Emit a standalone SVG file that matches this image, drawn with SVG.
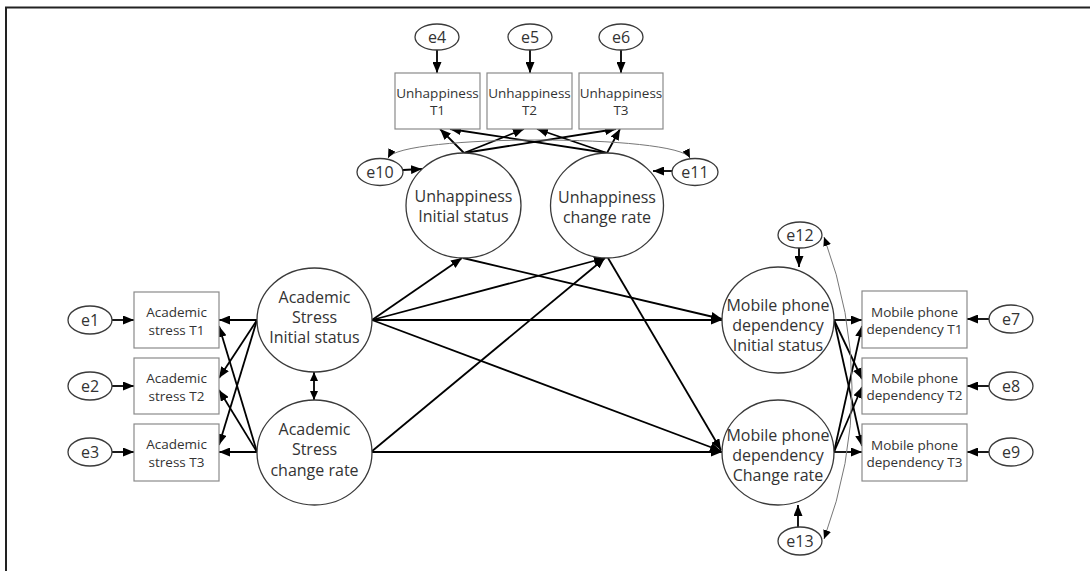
<svg xmlns="http://www.w3.org/2000/svg" width="1090" height="571" viewBox="0 0 1090 571">
<defs>
<marker id="ah" markerUnits="userSpaceOnUse" markerWidth="11" markerHeight="9" refX="11" refY="4.5" orient="auto"><path d="M0,0 L11,4.5 L0,9 z" fill="#000"/></marker>
<marker id="ahs" markerUnits="userSpaceOnUse" markerWidth="9" markerHeight="8" refX="9" refY="4" orient="auto-start-reverse"><path d="M0,0 L9,4 L0,8 z" fill="#000"/></marker>
<style>
.box{fill:#fff;stroke:#8a8a8a;stroke-width:1.2}
.lat{fill:#fff;stroke:#3a3a3a;stroke-width:1.3}
.err{fill:#fff;stroke:#3a3a3a;stroke-width:1.3}
.t{font-family:"Open Sans","Noto Sans","Liberation Sans",sans-serif;fill:#333;text-anchor:middle;dominant-baseline:central}
.bt{font-size:13.5px}
.lt{font-size:16px}
.et{font-size:16px}
.c line,.c path.a{stroke:#000;stroke-width:1.8;fill:none;marker-end:url(#ah)}
.c path.cov{stroke:#777;stroke-width:1;fill:none;marker-start:url(#ahs);marker-end:url(#ahs)}
.c line.bi{marker-start:url(#ahs);marker-end:url(#ahs)}
</style>
</defs>
<rect width="1090" height="571" fill="#fff"/>
<path d="M6,571 V7.5 H1090" fill="none" stroke="#222" stroke-width="2"/>

<g class="c" id="connectors">
<line x1="437" y1="50" x2="437" y2="73"/>
<line x1="530" y1="50" x2="530" y2="73"/>
<line x1="621" y1="50" x2="621" y2="73"/>
<line x1="464" y1="153" x2="440" y2="129"/>
<line x1="464" y1="153" x2="524" y2="129"/>
<line x1="464" y1="153" x2="616" y2="129"/>
<line x1="607" y1="153" x2="450" y2="129"/>
<line x1="607" y1="153" x2="537" y2="129"/>
<line x1="607" y1="153" x2="620" y2="129"/>
<line x1="403" y1="170" x2="422" y2="169"/>
<line x1="672" y1="171" x2="653" y2="171"/>
<path class="cov" d="M388,158 C400,134 678,134 690,158"/>
<line x1="112" y1="320" x2="134" y2="320"/>
<line x1="112" y1="386" x2="134" y2="386"/>
<line x1="112" y1="452" x2="134" y2="452"/>
<line x1="257" y1="320" x2="219" y2="320"/>
<line x1="257" y1="320" x2="219" y2="378"/>
<line x1="257" y1="320" x2="219" y2="445"/>
<line x1="257" y1="452" x2="219" y2="452"/>
<line x1="257" y1="452" x2="219" y2="390"/>
<line x1="257" y1="452" x2="219" y2="326"/>
<line class="bi" x1="314" y1="372" x2="314" y2="400"/>
<line x1="372" y1="320" x2="462" y2="258"/>
<line x1="372" y1="320" x2="605" y2="258"/>
<line x1="372" y1="320" x2="722" y2="320"/>
<line x1="372" y1="320" x2="721" y2="451"/>
<line x1="371" y1="452" x2="605" y2="258"/>
<line x1="371" y1="452" x2="722" y2="452"/>
<line x1="463" y1="258" x2="722" y2="319"/>
<line x1="608" y1="258" x2="721" y2="450"/>
<line x1="799" y1="248" x2="799" y2="267"/>
<line x1="798" y1="527" x2="798" y2="505"/>
<line x1="834" y1="320" x2="862" y2="320"/>
<line x1="834" y1="320" x2="862" y2="379"/>
<line x1="834" y1="320" x2="862" y2="446"/>
<line x1="834" y1="452" x2="862" y2="452"/>
<line x1="834" y1="452" x2="862" y2="387"/>
<line x1="834" y1="452" x2="862" y2="326"/>
<line x1="989" y1="319" x2="967" y2="319"/>
<line x1="989" y1="386" x2="967" y2="386"/>
<line x1="989" y1="452" x2="967" y2="452"/>
<path class="cov" d="M824,237 Q880,388 824,539"/>
</g>

<g id="e4"><ellipse class="err" cx="437" cy="37" rx="22" ry="13"/><text class="t et" x="437" y="37">e4</text></g>
<g id="e5"><ellipse class="err" cx="530" cy="37" rx="22" ry="13"/><text class="t et" x="530" y="37">e5</text></g>
<g id="e6"><ellipse class="err" cx="621" cy="37" rx="22" ry="13"/><text class="t et" x="621" y="37">e6</text></g>

<g id="unh1"><rect class="box" x="395" y="73" width="85" height="56"/><text class="t bt" x="437.5" y="93">Unhappiness</text><text class="t bt" x="437.5" y="110">T1</text></g>
<g id="unh2"><rect class="box" x="487" y="73" width="85" height="56"/><text class="t bt" x="529.5" y="93">Unhappiness</text><text class="t bt" x="529.5" y="110">T2</text></g>
<g id="unh3"><rect class="box" x="579" y="73" width="84" height="56"/><text class="t bt" x="621" y="93">Unhappiness</text><text class="t bt" x="621" y="110">T3</text></g>

<g id="e10"><ellipse class="err" cx="380" cy="172" rx="23" ry="13.5"/><text class="t et" x="380" y="172">e10</text></g>
<g id="e11"><ellipse class="err" cx="695" cy="172" rx="23" ry="13.5"/><text class="t et" x="695" y="172">e11</text></g>

<g id="unhIS"><ellipse class="lat" cx="463.5" cy="205.5" rx="57.5" ry="52.5"/><text class="t lt" x="463.5" y="196">Unhappiness</text><text class="t lt" x="463.5" y="216">Initial  status</text></g>
<g id="unhCR"><ellipse class="lat" cx="607" cy="205.5" rx="56.5" ry="52.5"/><text class="t lt" x="607" y="197">Unhappiness</text><text class="t lt" x="607" y="217">change rate</text></g>

<g id="e1"><ellipse class="err" cx="90" cy="320" rx="22" ry="14"/><text class="t et" x="90" y="320">e1</text></g>
<g id="e2"><ellipse class="err" cx="90" cy="386" rx="22" ry="14"/><text class="t et" x="90" y="386">e2</text></g>
<g id="e3"><ellipse class="err" cx="90" cy="452" rx="22" ry="14"/><text class="t et" x="90" y="452">e3</text></g>

<g id="as1"><rect class="box" x="134" y="292" width="85" height="56"/><text class="t bt" x="176.5" y="312">Academic</text><text class="t bt" x="176.5" y="330">stress T1</text></g>
<g id="as2"><rect class="box" x="134" y="358" width="85" height="56"/><text class="t bt" x="176.5" y="378">Academic</text><text class="t bt" x="176.5" y="396">stress T2</text></g>
<g id="as3"><rect class="box" x="134" y="424" width="85" height="57"/><text class="t bt" x="176.5" y="444">Academic</text><text class="t bt" x="176.5" y="462">stress T3</text></g>

<g id="asIS"><ellipse class="lat" cx="314.5" cy="320" rx="57.5" ry="52"/><text class="t lt" x="314.5" y="297">Academic</text><text class="t lt" x="314.5" y="317">Stress</text><text class="t lt" x="314.5" y="337">Initial  status</text></g>
<g id="asCR"><ellipse class="lat" cx="314.5" cy="452.5" rx="57.5" ry="52.5"/><text class="t lt" x="314.5" y="429">Academic</text><text class="t lt" x="314.5" y="449">Stress</text><text class="t lt" x="314.5" y="470">change rate</text></g>

<g id="e12"><ellipse class="err" cx="800" cy="235" rx="22" ry="13"/><text class="t et" x="800" y="235">e12</text></g>
<g id="e13"><ellipse class="err" cx="800" cy="541" rx="22" ry="14"/><text class="t et" x="800" y="541">e13</text></g>

<g id="mpIS"><ellipse class="lat" cx="778" cy="320" rx="56" ry="53"/><text class="t lt" x="778" y="305">Mobile phone</text><text class="t lt" x="778" y="325">dependency</text><text class="t lt" x="778" y="345">Initial  status</text></g>
<g id="mpCR"><ellipse class="lat" cx="778" cy="452.5" rx="56" ry="52.5"/><text class="t lt" x="778" y="435">Mobile phone</text><text class="t lt" x="778" y="455">dependency</text><text class="t lt" x="778" y="475">Change rate</text></g>

<g id="mp1"><rect class="box" x="862" y="291" width="105" height="57"/><text class="t bt" x="914.5" y="312">Mobile phone</text><text class="t bt" x="914.5" y="329">dependency T1</text></g>
<g id="mp2"><rect class="box" x="862" y="358" width="105" height="56"/><text class="t bt" x="914.5" y="378">Mobile phone</text><text class="t bt" x="914.5" y="395">dependency T2</text></g>
<g id="mp3"><rect class="box" x="862" y="424" width="105" height="57"/><text class="t bt" x="914.5" y="445">Mobile phone</text><text class="t bt" x="914.5" y="462">dependency T3</text></g>

<g id="e7"><ellipse class="err" cx="1011" cy="319" rx="22" ry="14"/><text class="t et" x="1011" y="319">e7</text></g>
<g id="e8"><ellipse class="err" cx="1011" cy="386" rx="22" ry="14"/><text class="t et" x="1011" y="386">e8</text></g>
<g id="e9"><ellipse class="err" cx="1011" cy="452" rx="22" ry="14"/><text class="t et" x="1011" y="452">e9</text></g>
</svg>
